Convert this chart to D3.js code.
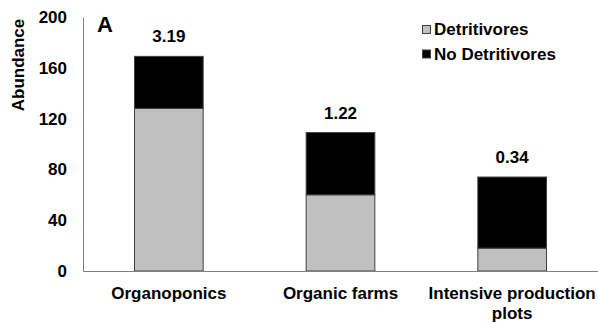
<!DOCTYPE html>
<html>
<head>
<meta charset="utf-8">
<script src="https://cdn.jsdelivr.net/npm/d3@7"></script>
<style>
  body { margin: 0; background: #fff; }
  text { font-family: "Liberation Sans", Arial, sans-serif; font-weight: bold; }
</style>
</head>
<body>
<div id="wrapper"></div>
<script>
// data
const categories = ["Organoponics", "Organic farms", "Intensive production plots"]
const detritivores = [128, 60, 18]
const noDetritivores = [41, 49, 56]
const ratioLabels = ["3.19", "1.22", "0.34"]
const yTicks = [0, 40, 80, 120, 160, 200]
const seriesNames = ["Detritivores", "No Detritivores"]
const seriesColors = ["#c0c0c0", "#000000"]

const dimensions = {
  width: 598,
  height: 323,
  margin: { top: 17, right: 0, bottom: 52, left: 83 },
}
dimensions.boundedWidth = dimensions.width - dimensions.margin.left - dimensions.margin.right
dimensions.boundedHeight = dimensions.height - dimensions.margin.top - dimensions.margin.bottom

const wrapper = d3.select("#wrapper")
  .append("svg")
    .attr("width", dimensions.width)
    .attr("height", dimensions.height)

const bounds = wrapper.append("g")
  .attr("transform", `translate(${dimensions.margin.left},${dimensions.margin.top})`)

const table = categories.map((c, i) => ({
  category: c,
  Detritivores: detritivores[i],
  "No Detritivores": noDetritivores[i],
  label: ratioLabels[i],
}))

const stack = d3.stack().keys(seriesNames)(table)

const xScale = d3.scaleBand()
  .domain(categories)
  .range([0, dimensions.boundedWidth])
  .paddingInner(0.6)
  .paddingOuter(0.3)

const yScale = d3.scaleLinear()
  .domain([0, 200])
  .range([dimensions.boundedHeight, 0])

const colorScale = d3.scaleOrdinal()
  .domain(seriesNames)
  .range(seriesColors)

// bars
bounds.selectAll("g.series")
  .data(stack)
  .join("g")
    .attr("class", "series")
    .attr("fill", d => colorScale(d.key))
  .selectAll("rect")
  .data(d => d)
  .join("rect")
    .attr("x", d => xScale(d.data.category))
    .attr("y", d => yScale(d[1]))
    .attr("width", xScale.bandwidth())
    .attr("height", d => yScale(d[0]) - yScale(d[1]))
    .attr("stroke", "#404040")
    .attr("stroke-width", 1)

// ratio labels above bars
bounds.selectAll("text.ratio")
  .data(table)
  .join("text")
    .attr("class", "ratio")
    .attr("x", d => xScale(d.category) + xScale.bandwidth() / 2)
    .attr("y", d => yScale(d.Detritivores + d["No Detritivores"]) - 14)
    .attr("text-anchor", "middle")
    .style("font-size", "17px")
    .text(d => d.label)

// y axis
const yAxisGenerator = d3.axisLeft(yScale)
  .tickValues(yTicks)
  .tickSize(0)
  .tickPadding(16)

const yAxis = bounds.append("g").call(yAxisGenerator)
yAxis.select(".domain").attr("stroke", "#808080")
yAxis.selectAll("text")
  .attr("fill", "#000")
  .style("font-size", "17px")
  .style("font-family", "Liberation Sans, Arial, sans-serif")
  .style("font-weight", "bold")

// x axis
const xAxisGenerator = d3.axisBottom(xScale).tickSize(0).tickPadding(0)
const xAxis = bounds.append("g")
  .attr("transform", `translate(0,${dimensions.boundedHeight})`)
  .call(xAxisGenerator)
xAxis.select(".domain").attr("stroke", "#808080").attr("d", `M0.5,0.5H${dimensions.boundedWidth}`)
xAxis.selectAll(".tick text").remove()
xAxis.selectAll(".tick").each(function(d) {
  const t = d3.select(this).append("text")
    .attr("fill", "#000")
    .attr("text-anchor", "middle")
    .style("font-size", "17px")
  const lines = d === "Intensive production plots" ? ["Intensive production", "plots"] : [d]
  lines.forEach((line, i) => {
    t.append("tspan").attr("x", 0).attr("y", 27.5 + i * 20).text(line)
  })
})

// y label
wrapper.append("text")
  .attr("transform", `translate(24, 65) rotate(-90)`)
  .attr("text-anchor", "middle")
  .style("font-size", "17px")
  .text("Abundance")

// panel letter
wrapper.append("text")
  .attr("x", 97)
  .attr("y", 32)
  .style("font-size", "22px")
  .text("A")

// legend
const legend = wrapper.append("g")
  .attr("transform", "translate(422, 25)")
const legendItems = legend.selectAll("g")
  .data(seriesNames)
  .join("g")
    .attr("transform", (d, i) => `translate(0, ${i * 24.5})`)
legendItems.append("rect")
  .attr("x", 0.5)
  .attr("y", 0.5)
  .attr("width", 8)
  .attr("height", 8)
  .attr("fill", d => colorScale(d))
  .attr("stroke", "#404040")
legendItems.append("text")
  .attr("x", 12)
  .attr("y", 10)
  .style("font-size", "17px")
  .text(d => d)
</script>
</body>
</html>
